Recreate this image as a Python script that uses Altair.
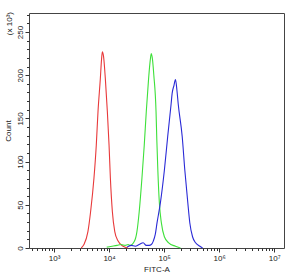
import altair as alt
import pandas as pd

# --- data (FITC-A value, count in units of 10^3 scale) ---
red_fitc = [3120, 3490, 4130, 4620, 5320, 5860, 6300, 6940, 7300, 7550, 7930,
            8560, 9310, 10000, 10570, 11490, 12700, 14600, 18000, 22200]
red_count = [0, 4, 19, 42, 81, 119, 158, 196, 218, 227, 222,
             196, 158, 119, 81, 42, 19, 8, 2, 0]

green_fitc = [9080, 11350, 14000, 16560, 19600, 22200, 24200, 29000, 32100, 35300,
              39600, 43600, 47500, 52300, 56200, 58600, 61600, 65100, 71400, 73800,
              77000, 82100, 89300, 101200, 121300, 161000, 198600]
green_count = [1, 2, 3, 4, 3, 4, 3, 8, 19, 42,
               81, 119, 158, 196, 218, 225, 218, 200, 158, 125,
               90, 52, 29, 13, 6, 2, 0]

blue_fitc = [21100, 25200, 29900, 35300, 41700, 47400, 53800, 58600, 63700, 69300,
             74400, 85500, 101200, 116300, 134300, 140100, 151000, 161000, 171500,
             180400, 213400, 238200, 270100, 293600, 329000, 373300, 447400, 501000]
blue_count = [1, 3, 2, 4, 6, 3, 3, 4, 8, 16,
              29, 52, 90, 129, 167, 179, 188, 195, 182,
              167, 129, 90, 52, 29, 13, 6, 2, 0]

series_names = ["red", "green", "blue"]
series_colors = ["#e8393a", "#3ee03a", "#2a2ad6"]

x_major = [1e3, 1e4, 1e5, 1e6, 1e7]
x_minor = [400, 500, 600, 700, 800, 900,
           2e3, 3e3, 4e3, 5e3, 6e3, 7e3, 8e3, 9e3,
           2e4, 3e4, 4e4, 5e4, 6e4, 7e4, 8e4, 9e4,
           2e5, 3e5, 4e5, 5e5, 6e5, 7e5, 8e5, 9e5,
           2e6, 3e6, 4e6, 5e6, 6e6, 7e6, 8e6, 9e6]
y_major = [0, 50, 100, 150, 200, 250]
y_minor = [10, 20, 30, 40, 60, 70, 80, 90, 110, 120, 130, 140,
           160, 170, 180, 190, 210, 220, 230, 240, 260, 270]
annotation = ["(x 10³)"]

rows = []
for name, xs, ys in [("red", red_fitc, red_count),
                     ("green", green_fitc, green_count),
                     ("blue", blue_fitc, blue_count)]:
    for i, (a, b) in enumerate(zip(xs, ys)):
        rows.append({"fitc": a, "count": b, "series": name, "idx": i})
df = pd.DataFrame(rows)

FONT = "Liberation Sans"
TXT = "#222222"

xscale = alt.Scale(type="log", domain=[351, 1.51e7], nice=False)
yscale = alt.Scale(domain=[0, 272], nice=False, zero=False)

lines = alt.Chart(df).mark_line(strokeWidth=1.1, interpolate="monotone").encode(
    x=alt.X("fitc:Q", scale=xscale,
            axis=alt.Axis(orient="bottom", values=x_major, domain=False, grid=False,
                          tickSize=4, tickColor="#333333", labelPadding=2,
                          labelExpr="'10' + ['³','⁴','⁵','⁶','⁷'][round(log(datum.value)/LN10) - 3]",
                          labelFont=FONT, labelFontSize=8, labelColor=TXT,
                          title="FITC-A", titleFont=FONT, titleFontSize=8,
                          titleFontWeight="normal", titleColor=TXT,
                          titleY=21, titleBaseline="middle")),
    y=alt.Y("count:Q", scale=yscale,
            axis=alt.Axis(orient="left", values=y_major, domain=False, grid=False,
                          tickSize=4, tickColor="#333333", labelPadding=1,
                          labelAngle=270, labelAlign="center", labelBaseline="bottom",
                          labelFont=FONT, labelFontSize=8, labelColor=TXT,
                          title="Count", titleFont=FONT, titleFontSize=8,
                          titleFontWeight="normal", titleColor=TXT,
                          titleAngle=270, titleX=-21, titleY=117.5,
                          titleAlign="center", titleBaseline="middle")),
    color=alt.Color("series:N", scale=alt.Scale(domain=series_names, range=series_colors),
                    legend=None),
    order="idx:Q",
)

minor = alt.Chart(df).mark_line(opacity=0).encode(
    x=alt.X("fitc:Q", scale=xscale,
            axis=alt.Axis(orient="bottom", values=x_minor, domain=False, grid=False,
                          labels=False, tickSize=2.5, tickColor="#333333", title=None)),
    y=alt.Y("count:Q", scale=yscale,
            axis=alt.Axis(orient="left", values=y_minor, domain=False, grid=False,
                          labels=False, tickSize=2.5, tickColor="#333333", title=None)),
    detail="series:N",
)

note = alt.Chart(pd.DataFrame({"t": annotation})).mark_text(
    angle=270, align="right", baseline="middle", font=FONT, fontSize=8, color=TXT
).encode(text="t:N", x=alt.value(-19), y=alt.value(-1))

chart = alt.layer(lines, minor, note).resolve_axis(
    x="independent", y="independent"
).properties(
    width=255, height=235,
    autosize=alt.AutoSizeParams(type="none"),
    padding={"left": 29, "top": 13, "right": 6, "bottom": 27},
).configure_view(stroke="#444444", strokeWidth=1)

chart.save("out.html", embed_options={"renderer": "svg", "actions": False})
